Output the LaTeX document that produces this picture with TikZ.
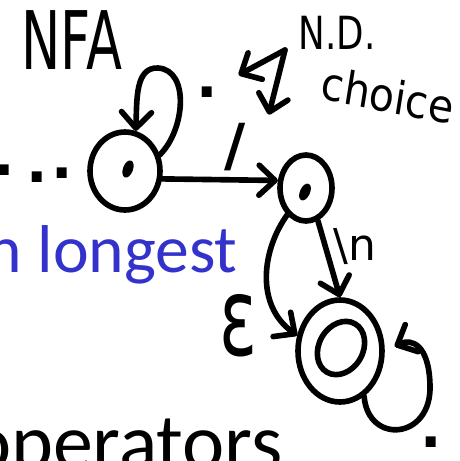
\documentclass[tikz,border=0pt]{standalone}
\usepackage{fontspec}
\setsansfont{Carlito}
\newfontfamily\handfont{DejaVu Sans}
\usetikzlibrary{arrows.meta,shapes.geometric}
\definecolor{slideblue}{RGB}{51,51,204}

\tikzset{
  hand/.style={line width=3.2pt, line cap=round, line join=round},
  arr/.style={hand, -{Straight Barb[round, length=0.32cm, width=0.6cm]}},
  state/.style={draw, ellipse, hand, inner sep=0pt},
  handlbl/.style={inner sep=0pt, font=\handfont},
  dotlbl/.style={inner sep=0pt, font=\handfont\bfseries\fontsize{32}{32}\selectfont},
}

\begin{document}
\begin{tikzpicture}[x=0.02cm, y=-0.02cm]
\useasboundingbox (0,0) rectangle (460,461);
\clip (0,0) rectangle (460,461);

% slide text under the sketch
\node[anchor=base east, inner sep=0pt, text=slideblue, font=\sffamily\fontsize{38.5}{40}\selectfont] (longest) at (238,272) {n longest};
\node[anchor=base east, inner sep=0pt, font=\sffamily\fontsize{45.5}{48}\selectfont] (ops) at (283,469) {operators};

% title
\node[handlbl, xscale=0.65, font=\handfont\fontsize{46}{46}\selectfont] (title) at (72,40) {NFA};

% states
\node[state, minimum width=1.4cm, minimum height=1.56cm] (q1) at (125,171) {};
\node[state, minimum width=1.04cm, minimum height=1.32cm] (q2) at (306,188) {};
\node[state, minimum width=1.68cm, minimum height=2.04cm] (q3) at (340,351) {};
\fill[rotate around={-20:(128,169)}] (128,169) ellipse (5 and 9);
\fill[rotate around={-25:(305,192)}] (305,192) ellipse (5 and 9);
\draw[hand, rotate around={-30:(341,348)}] (341,348) ellipse (22 and 28);

% dots before q1
\foreach \i/\x/\y in {1/4/170, 2/37/177, 3/62/173}
  \node[dotlbl] (d\i) at (\x,\y) {.};

% transitions
\draw[arr] (q1.25) .. controls (185,130) and (190,70) .. (158,68) .. controls (135,67) and (137,100) .. (q1.75);
\node[dotlbl] (lany1) at (207,92) {.};
\draw[arr] (q1.-12) -- coordinate[pos=0.78] (onedge) (q2.165);
\node[handlbl, font=\handfont\bfseries\fontsize{33}{33}\selectfont] (lslash) at (235,147) {/};
\draw[arr] (q2.-70) -- (q3.north);
\node[handlbl, font=\handfont\fontsize{25}{25}\selectfont] (lnl) at (355,247) {\textbackslash n};
\draw[arr] (q2.-125) .. controls (262,250) and (255,305) .. (q3.160);
\node[handlbl, yscale=1.55, font=\handfont\fontsize{40}{40}\selectfont] (leps) at (238,326) {ε};
\draw[arr, shorten >=0.22cm] (q3.-62) .. controls (368,445) and (432,440) .. (430,385) .. controls (429,345) and (412,338) .. (q3.0);
\node[dotlbl] (lany2) at (431,442) {.};

% non-deterministic choice
\coordinate (nd) at (285,50);
\draw[arr, shorten >=0.48cm] (nd) -- (lany1);
\draw[arr, shorten >=1.35cm] (nd) -- (onedge);
\node[handlbl, xscale=0.78, font=\handfont\fontsize{26}{26}\selectfont] (ndlbl) at (337,33) {N.D.};
\node[handlbl, xscale=0.9, rotate=-10, font=\handfont\fontsize{26}{26}\selectfont] (choice) at (388,95) {choice};
\end{tikzpicture}
\end{document}
